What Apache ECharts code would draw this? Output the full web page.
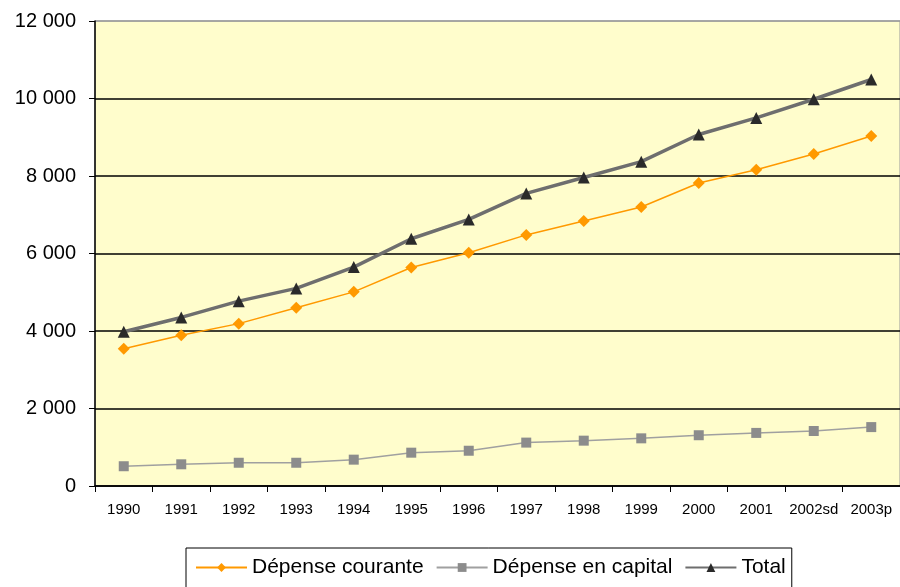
<!DOCTYPE html>
<html>
<head>
<meta charset="utf-8">
<script src="https://cdn.jsdelivr.net/npm/echarts@6/dist/echarts.min.js"></script>
<style>
  html, body { margin: 0; padding: 0; background: #fff; }
  #chart { width: 900px; height: 587px; }
</style>
</head>
<body>
<div id="chart"></div>
<script>
// Années (sd = semi-définitif, p = provisoire)
const years = ['1990', '1991', '1992', '1993', '1994', '1995', '1996',
               '1997', '1998', '1999', '2000', '2001', '2002sd', '2003p'];

// Dépense courante
const courante = [3540, 3890, 4190, 4600, 5010, 5640, 6020,
                  6480, 6840, 7200, 7820, 8160, 8570, 9030];

// Dépense en capital
const capital = [510, 560, 600, 600, 680, 860, 910,
                 1120, 1170, 1230, 1310, 1370, 1420, 1520];

// Total
const total = [3980, 4350, 4770, 5100, 5650, 6380, 6880,
               7550, 7960, 8370, 9070, 9500, 9980, 10490];

const yTicks = { min: 0, max: 12000, interval: 2000 };

const fmt = v => String(v).replace(/\B(?=(\d{3})+(?!\d))/g, ' ');
const font = 'Arial, "Liberation Sans", sans-serif';

const chart = echarts.init(document.getElementById('chart'), null, { renderer: 'canvas' });

chart.setOption({
  animation: false,
  backgroundColor: '#ffffff',
  grid: {
    left: 95, right: 0, top: 21, bottom: 101,
    show: true,
    backgroundColor: '#FFFDCC',
    borderColor: '#9a9a9a',
    borderWidth: 1
  },
  legend: {
    left: 186, top: 548,
    padding: [9, 6, 14, 9],
    itemGap: 12,
    itemWidth: 51,
    itemHeight: 11,
    borderColor: '#000',
    borderWidth: 1,
    backgroundColor: '#fff',
    textStyle: { fontFamily: font, fontSize: 21, color: '#000' },
    data: ['Dépense courante', 'Dépense en capital', 'Total']
  },
  xAxis: {
    type: 'category',
    data: years,
    boundaryGap: true,
    axisLine: { lineStyle: { color: '#000', width: 1.5 } },
    axisTick: { show: true, length: 6, alignWithLabel: false, lineStyle: { color: '#000' } },
    axisLabel: { fontFamily: font, fontSize: 15, color: '#000', margin: 16, interval: 0 },
    splitLine: { show: false }
  },
  yAxis: {
    type: 'value',
    min: yTicks.min, max: yTicks.max, interval: yTicks.interval,
    axisLine: { show: true, lineStyle: { color: '#000', width: 1.5 } },
    axisTick: { show: true, length: 6, lineStyle: { color: '#000' } },
    axisLabel: { fontFamily: font, fontSize: 20, color: '#000', margin: 19, formatter: fmt },
    splitLine: {
      show: true,
      lineStyle: {
        color: ['#000', '#000', '#000', '#000', '#000', '#000', '#9a9a9a'],
        width: 1.5
      }
    }
  },
  series: [
    {
      name: 'Dépense courante',
      type: 'line',
      data: courante,
      symbol: 'diamond',
      symbolSize: 12,
      lineStyle: { color: '#FF9900', width: 1.5 },
      itemStyle: { color: '#FF9900' },
      z: 3
    },
    {
      name: 'Dépense en capital',
      type: 'line',
      data: capital,
      symbol: 'rect',
      symbolSize: 10,
      lineStyle: { color: '#a0a0a0', width: 1.5 },
      itemStyle: { color: '#8c8c8c' },
      z: 2
    },
    {
      name: 'Total',
      type: 'line',
      data: total,
      symbol: 'triangle',
      symbolSize: 12,
      lineStyle: { color: '#6e6e6e', width: 3.5 },
      itemStyle: { color: '#2a2a2a' },
      z: 4
    }
  ]
});
</script>
</body>
</html>
